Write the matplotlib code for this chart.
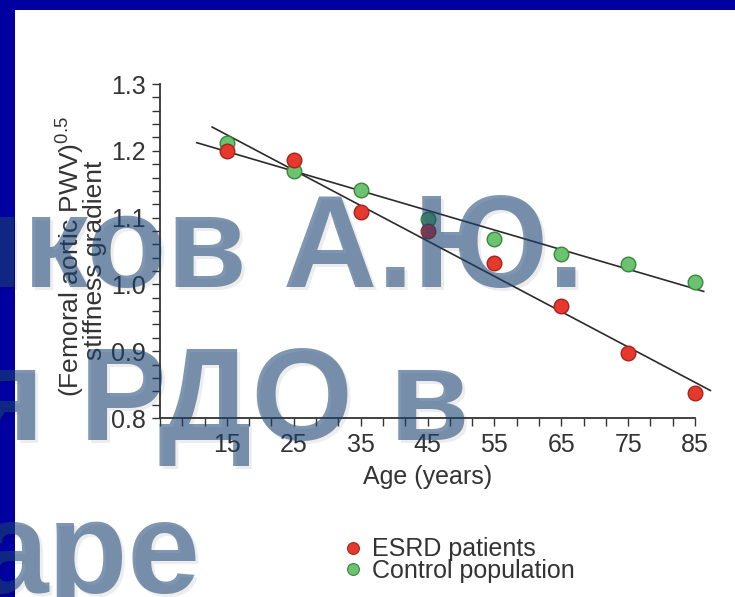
import numpy as np
import matplotlib
matplotlib.use("Agg")
import matplotlib.pyplot as plt
from matplotlib.lines import Line2D
from matplotlib.patches import Rectangle
from matplotlib.ticker import FixedLocator, MultipleLocator, FormatStrFormatter

plt.rcParams.update({
    "font.family": ["Liberation Sans", "DejaVu Sans"],
    "mathtext.fontset": "custom",
    "mathtext.rm": "Liberation Sans",
    "mathtext.it": "Liberation Sans:italic",
    "mathtext.bf": "Liberation Sans:bold",
})

# data
AGES = [15, 25, 35, 45, 55, 65, 75, 85]
ESRD = [1.200, 1.186, 1.108, 1.080, 1.032, 0.968, 0.897, 0.838]
CONTROL = [1.211, 1.170, 1.142, 1.098, 1.068, 1.046, 1.030, 1.004]
SERIES_NAMES = ["ESRD patients", "Control population"]
XTICKS = [15, 25, 35, 45, 55, 65, 75, 85]
YTICKS = [0.8, 0.9, 1.0, 1.1, 1.2, 1.3]
WATERMARK = ["иков А.Ю.", "я РДО в", "аре"]

# span of each regression line (age)
ESRD_SPAN = (12.8, 87.3)
CONTROL_SPAN = (10.5, 86.3)

COL_BORDER = "#0000A0"
COL_RED = "#E5392D"
COL_RED_EDGE = "#A8231A"
COL_GREEN = "#6CC26F"
COL_GREEN_EDGE = "#37873F"
COL_TEXT = "#333333"
COL_MARK = "#1B4476"

W, H = 735, 597


def fx(px):
    return px / W


def fy(py):
    return 1 - py / H


def main():
    fig = plt.figure(figsize=(W / 100, H / 100), dpi=100, facecolor=COL_BORDER)

    # white slide panel
    fig.patches.append(Rectangle((fx(15), 0), 1 - fx(15), fy(10), transform=fig.transFigure,
                                 facecolor="white", edgecolor="none", zorder=-1))

    ax = fig.add_axes([fx(160), fy(418), fx(695) - fx(160), fy(84) - fy(418)])
    ax.patch.set_alpha(0)

    ages = np.array(AGES, dtype=float)
    for vals, span in [(ESRD, ESRD_SPAN), (CONTROL, CONTROL_SPAN)]:
        k, b = np.polyfit(ages, np.array(vals), 1)
        xs = np.array(span)
        ax.plot(xs, k * xs + b, color="#2b2b2b", lw=1.2, clip_on=False, zorder=2)

    ax.plot(AGES, CONTROL, "o", ms=10.5, mfc=COL_GREEN, mec=COL_GREEN_EDGE, mew=1.0,
            clip_on=False, zorder=3)
    ax.plot(AGES, ESRD, "o", ms=10.5, mfc=COL_RED, mec=COL_RED_EDGE, mew=1.0,
            clip_on=False, zorder=3)

    ax.set_xlim(5, 85)
    ax.set_ylim(0.8, 1.3)
    ax.xaxis.set_major_locator(FixedLocator(XTICKS))
    ax.xaxis.set_minor_locator(FixedLocator(np.arange(5, 85.01, 10 / 3)))
    ax.yaxis.set_major_locator(FixedLocator(YTICKS))
    ax.yaxis.set_minor_locator(MultipleLocator(0.02))
    ax.yaxis.set_major_formatter(FormatStrFormatter("%.1f"))
    ax.tick_params(which="both", direction="out", length=5.5, width=1.0,
                   color=COL_TEXT, labelcolor=COL_TEXT, labelsize=18)
    ax.tick_params(axis="x", which="major", pad=5)
    ax.tick_params(axis="y", which="major", pad=5)
    for s in ["top", "right"]:
        ax.spines[s].set_visible(False)
    for s in ["left", "bottom"]:
        ax.spines[s].set_color(COL_TEXT)
        ax.spines[s].set_linewidth(1.3)

    ax.set_xlabel("Age (years)", fontsize=18, color=COL_TEXT, labelpad=6)

    fig.text(fx(71), fy(257), r"(Femoral aortic PWV)$^{0.5}$", rotation=90,
             ha="center", va="center", fontsize=19, color=COL_TEXT)
    fig.text(fx(95), fy(260), "stiffness gradient", rotation=90,
             ha="center", va="center", fontsize=19, color=COL_TEXT)

    handles = [
        Line2D([], [], ls="", marker="o", ms=8.5, mfc=COL_RED, mec=COL_RED_EDGE, mew=0.8),
        Line2D([], [], ls="", marker="o", ms=8.5, mfc=COL_GREEN, mec=COL_GREEN_EDGE, mew=0.8),
    ]
    fig.legend(handles, SERIES_NAMES, loc="center left",
               bbox_to_anchor=(fx(345), fy(560)), frameon=False, fontsize=18,
               handlelength=0.6, handletextpad=0.5, labelspacing=-0.1,
               borderpad=0, borderaxespad=0, labelcolor=COL_TEXT)

    # semi-transparent slide watermark on top, with a faint drop shadow
    for txt, xr, yb in zip(WATERMARK, [584, 469, 200], [287, 440, 593]):
        fig.text(fx(xr + 3), fy(yb + 3), txt, ha="right", va="baseline", fontsize=94,
                 fontweight="bold", color="black", alpha=0.07, zorder=19)
        fig.text(fx(xr), fy(yb), txt, ha="right", va="baseline", fontsize=94,
                 fontweight="bold", color=COL_MARK, alpha=0.56, zorder=20)

    fig.savefig("out.png", dpi=100, facecolor=fig.get_facecolor())
    plt.close(fig)


if __name__ == "__main__":
    main()
